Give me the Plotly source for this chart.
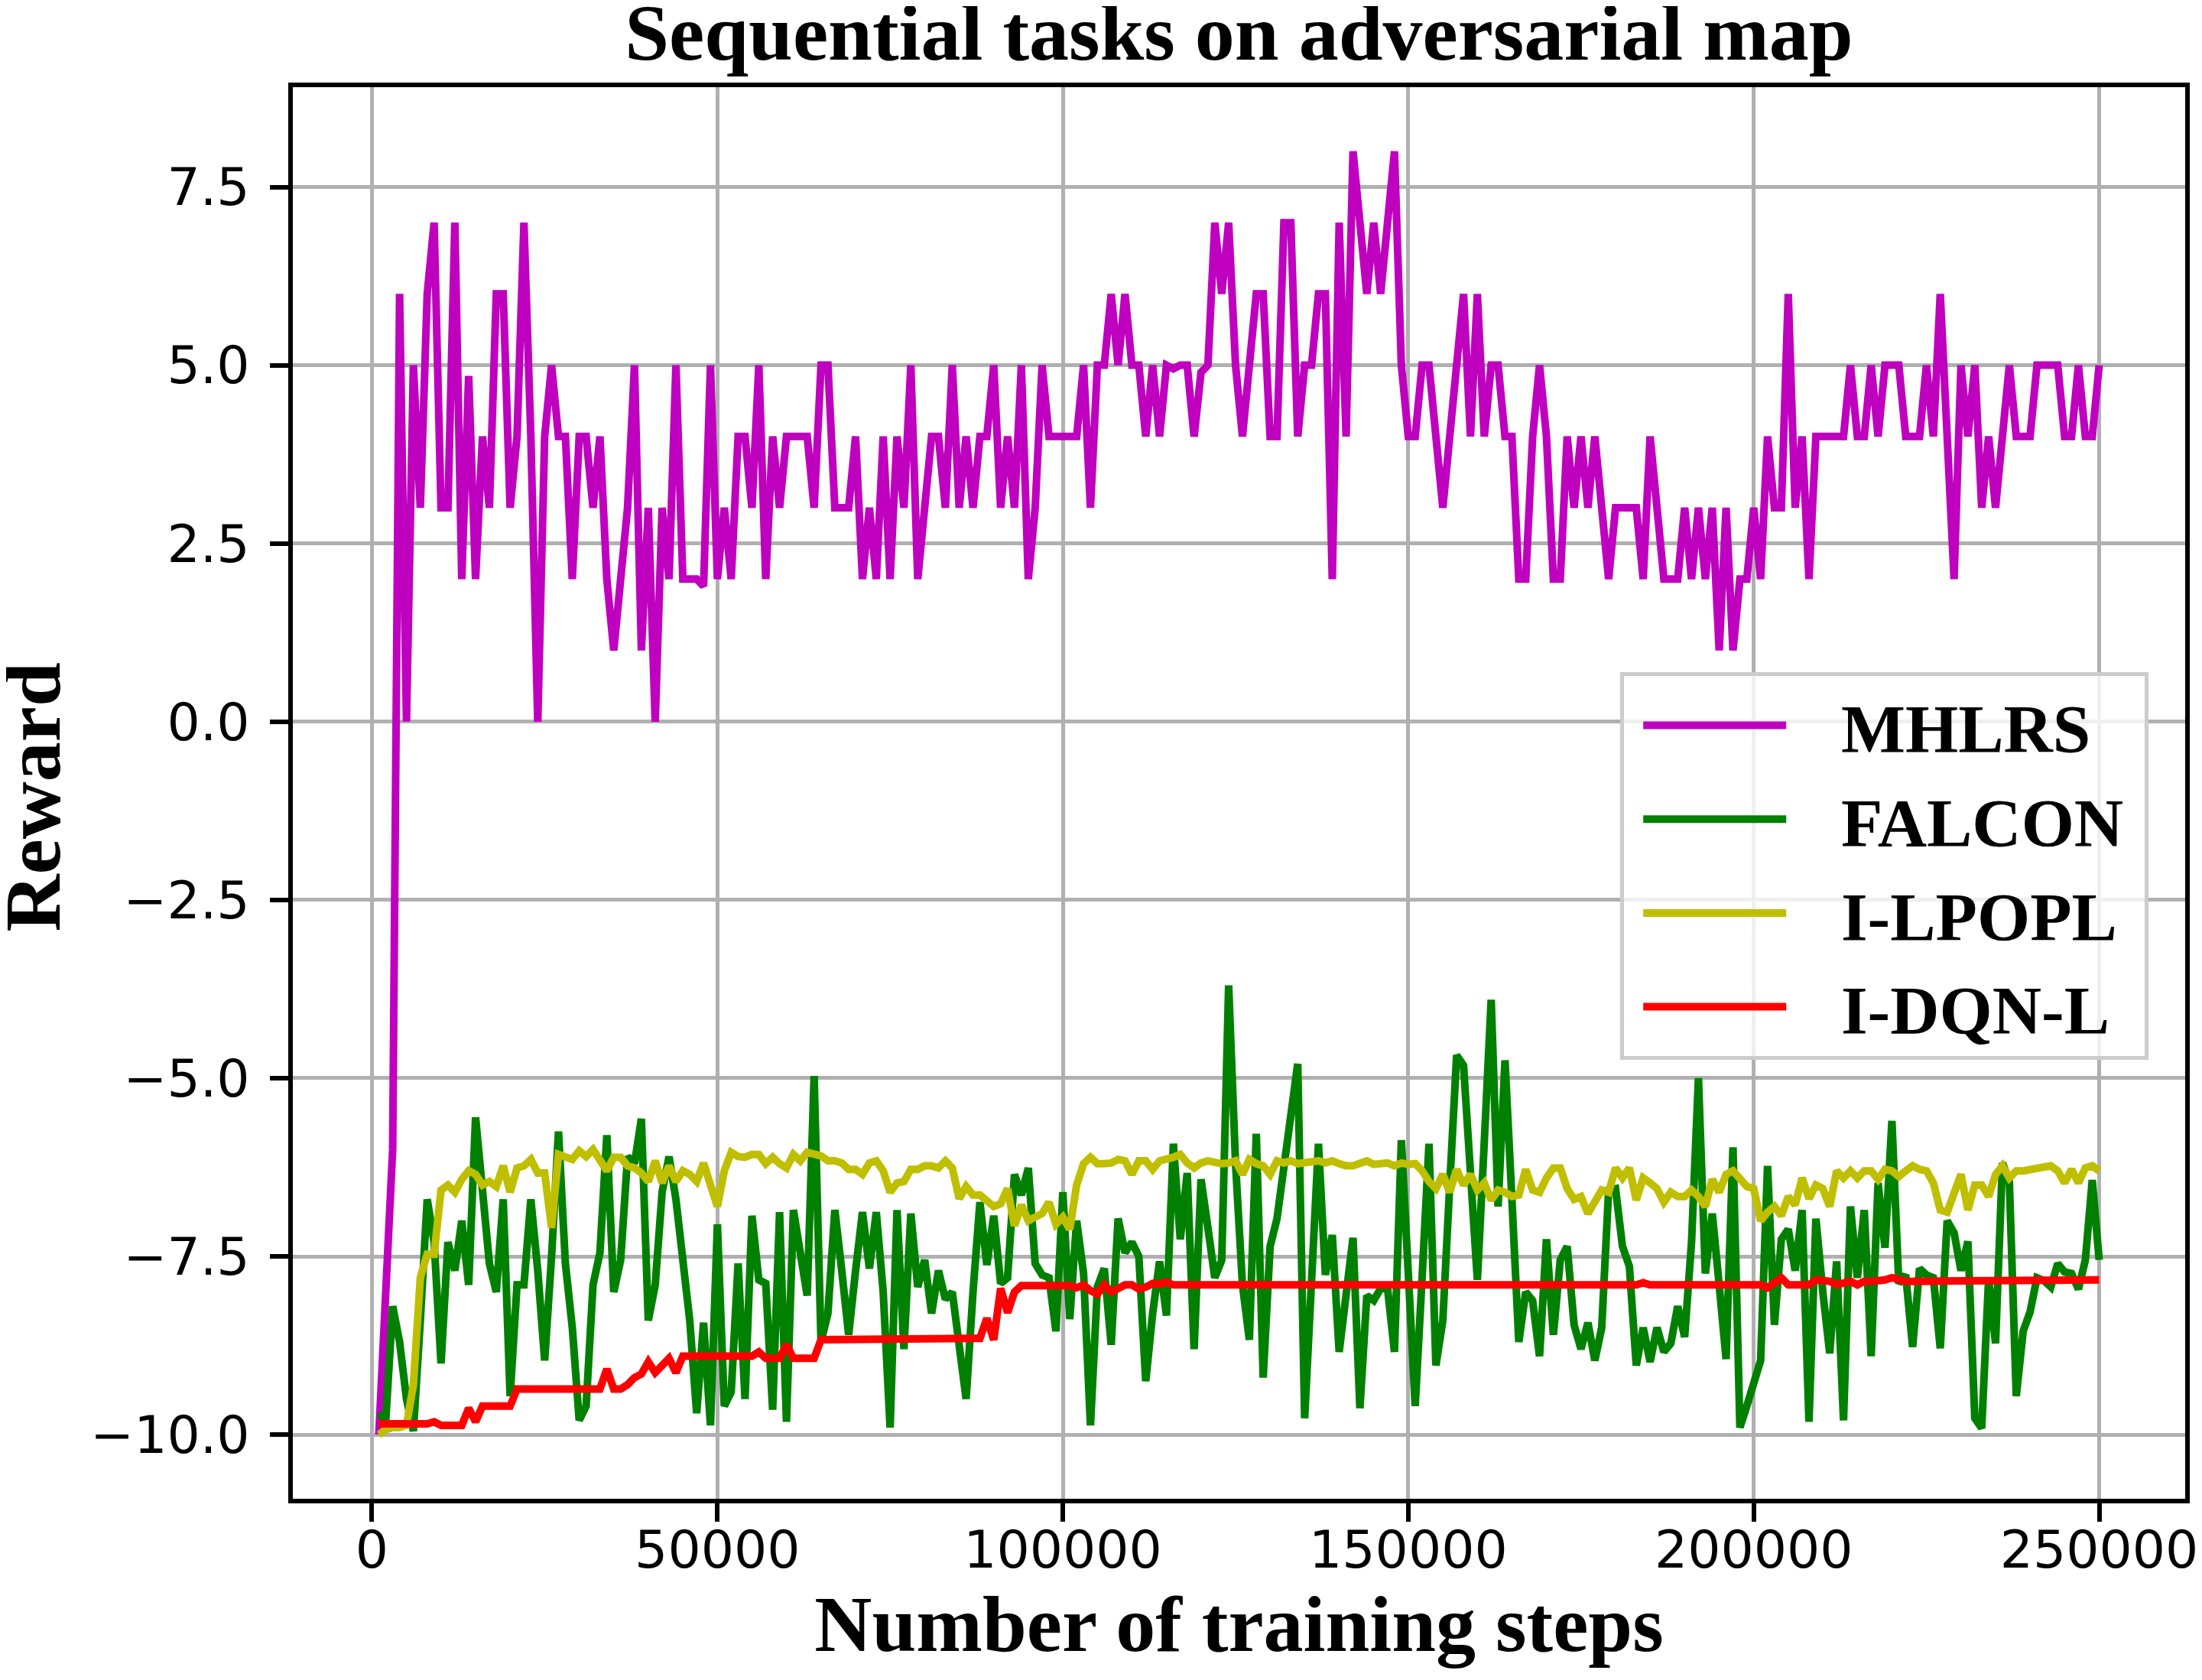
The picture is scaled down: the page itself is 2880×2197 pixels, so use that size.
import plotly.graph_objects as go

# training steps at which rewards were logged
steps = list(range(1000, 250001, 1000))

mhlrs = [
    -10, -8, -6, 6, 0, 5, 3, 6, 7, 3,
    3, 7, 2, 4.85, 2, 4, 3, 6, 6, 3,
    4, 7, 4, 0, 4, 5, 4, 4, 2, 4,
    4, 3, 4, 2, 1, 2, 3, 5, 1, 3,
    0, 3, 2, 5, 2, 2, 2, 1.9, 5, 2,
    3, 2, 4, 4, 3, 5, 2, 4, 3, 4,
    4, 4, 4, 3, 5, 5, 3, 3, 3, 4,
    2, 3, 2, 4, 2, 4, 3, 5, 2, 3,
    4, 4, 3, 5, 3, 4, 3, 4, 4, 5,
    3, 4, 3, 5, 2, 3, 5, 4, 4, 4,
    4, 4, 5, 3, 5, 5, 6, 5, 6, 5,
    5, 4, 5, 4, 5, 4.95, 5, 5, 4, 4.9,
    5, 7, 6, 7, 5, 4, 5, 6, 6, 4,
    4, 7, 7, 4, 5, 5, 6, 6, 2, 7,
    4, 8, 7, 6, 7, 6, 7, 8, 5, 4,
    4, 5, 5, 4, 3, 4, 5, 6, 4, 6,
    4, 5, 5, 4, 4, 2, 2, 4, 5, 4,
    2, 2, 4, 3, 4, 3, 4, 3, 2, 3,
    3, 3, 3, 2, 4, 3, 2, 2, 2, 3,
    2, 3, 2, 3, 1, 3, 1, 2, 2, 3,
    2, 4, 3, 3, 6, 3, 4, 2, 4, 4,
    4, 4, 4, 5, 4, 4, 5, 4, 5, 5,
    5, 4, 4, 4, 5, 4, 6, 4, 2, 5,
    4, 5, 3, 4, 3, 4, 5, 4, 4, 4,
    5, 5, 5, 5, 4, 4, 5, 4, 4, 5,
]

falcon = [
    -9.7, -9.8, -8.2, -8.7, -9.5, -9.95, -8.4, -6.7, -7.3, -9.0,
    -7.3, -7.7, -7.0, -7.9, -5.55, -6.6, -7.6, -8.0, -6.7, -9.46,
    -7.9, -7.9, -6.7, -7.7, -8.96, -7.5, -5.75, -7.6, -8.5, -9.8,
    -9.6, -7.9, -7.45, -5.8, -8.0, -7.55, -6.1, -6.2, -5.57, -8.4,
    -7.9, -6.6, -6.1, -6.7, -7.5, -8.4, -9.7, -8.43, -9.87, -7.05,
    -9.6, -9.4, -7.6, -9.5, -6.93, -7.83, -7.88, -9.65, -6.88, -9.82,
    -6.85, -7.4, -8.05, -4.97, -8.7, -8.3, -6.85, -7.7, -8.6, -7.7,
    -6.88, -7.67, -6.88, -8.0, -9.9, -6.85, -8.8, -6.9, -7.93, -7.55,
    -8.3, -7.7, -8.1, -8.0, -8.8, -9.5, -8.0, -6.74, -7.62, -6.93,
    -7.88, -7.8, -6.35, -6.64, -6.26, -7.6, -7.76, -7.8, -8.55, -6.6,
    -8.38, -7.0, -7.74, -9.87, -7.93, -7.67, -8.74, -6.97, -7.45, -7.3,
    -7.5, -9.25, -8.3, -7.57, -8.33, -5.92, -7.26, -6.33, -8.8, -6.42,
    -7.1, -7.8, -7.55, -3.7, -6.2, -7.9, -8.67, -5.78, -9.2, -7.36,
    -6.97, -6.3, -5.5, -4.8, -9.77, -7.8, -5.92, -7.76, -7.2, -8.84,
    -8.0, -7.24, -9.63, -8.05, -8.12, -7.95, -7.95, -8.84, -5.87, -7.7,
    -9.6, -7.8, -5.92, -9.03, -8.4, -6.5, -4.68, -4.82, -6.2, -7.83,
    -5.9, -3.9, -6.8, -4.75, -6.7, -8.7, -8.0, -8.12, -8.9, -7.26,
    -8.6, -7.55, -7.36, -8.46, -8.8, -8.43, -8.96, -8.5, -6.57, -6.55,
    -7.36, -7.64, -9.03, -8.5, -8.98, -8.5, -8.84, -8.72, -8.2, -8.63,
    -7.3, -5.0, -7.74, -6.9, -7.9, -8.94, -5.97, -9.9, -9.6, -9.3,
    -8.96, -6.23, -8.46, -7.26, -7.12, -7.7, -6.85, -9.82, -6.97, -8.0,
    -8.86, -7.57, -9.8, -6.8, -7.8, -6.85, -8.9, -6.47, -7.38, -5.6,
    -7.88, -7.76, -8.77, -7.67, -7.76, -7.8, -8.79, -7.0, -7.17, -7.7,
    -7.29, -9.77, -9.91, -7.81, -8.72, -6.19, -6.45, -9.46, -8.55, -8.28,
    -7.8, -7.84, -7.93, -7.6, -7.72, -7.74, -7.96, -7.55, -6.43, -7.55,
]

ilpopl = [
    -10.0, -9.93, -9.9, -9.9, -9.87, -9.3, -7.8, -7.47, -7.47, -6.57,
    -6.5, -6.6, -6.42, -6.3, -6.35, -6.5, -6.45, -6.52, -6.23, -6.6,
    -6.26, -6.23, -6.14, -6.33, -6.33, -7.1, -6.07, -6.1, -6.14, -6.02,
    -6.1, -6.0, -6.16, -6.3, -6.11, -6.11, -6.23, -6.26, -6.33, -6.45,
    -6.16, -6.47, -6.23, -6.45, -6.3, -6.35, -6.45, -6.19, -6.5, -6.8,
    -6.3, -6.04, -6.1, -6.11, -6.07, -6.07, -6.2, -6.11, -6.2, -6.26,
    -6.07, -6.16, -6.04, -6.07, -6.09, -6.16, -6.16, -6.19, -6.28, -6.28,
    -6.35, -6.19, -6.16, -6.3, -6.6, -6.47, -6.45, -6.28, -6.28, -6.23,
    -6.23, -6.26, -6.16, -6.26, -6.69, -6.52, -6.64, -6.64, -6.71, -6.8,
    -6.76, -6.55, -7.07, -6.78, -7.0, -6.95, -6.9, -6.74, -7.05, -6.95,
    -7.12, -6.5, -6.2, -6.11, -6.2, -6.2, -6.19, -6.14, -6.16, -6.35,
    -6.16, -6.16, -6.28, -6.16, -6.14, -6.11, -6.07, -6.19, -6.26, -6.19,
    -6.16, -6.19, -6.2, -6.19, -6.16, -6.35, -6.14, -6.2, -6.23, -6.35,
    -6.16, -6.19, -6.16, -6.2, -6.19, -6.16, -6.16, -6.19, -6.16, -6.2,
    -6.23, -6.23, -6.2, -6.16, -6.21, -6.21, -6.19, -6.23, -6.19, -6.21,
    -6.2, -6.3, -6.45, -6.55, -6.35, -6.6, -6.28, -6.5, -6.35, -6.57,
    -6.47, -6.71, -6.57, -6.6, -6.66, -6.64, -6.28, -6.57, -6.6, -6.4,
    -6.26, -6.26, -6.55, -6.7, -6.66, -6.9, -6.74, -6.57, -6.6, -6.26,
    -6.4, -6.26, -6.71, -6.4, -6.47, -6.55, -6.74, -6.6, -6.66, -6.66,
    -6.57, -6.66, -6.8, -6.42, -6.6, -6.35, -6.3, -6.4, -6.52, -6.55,
    -7.0, -6.88, -6.8, -6.93, -6.66, -6.78, -6.4, -6.69, -6.5, -6.55,
    -6.8, -6.3, -6.4, -6.3, -6.4, -6.3, -6.3, -6.42, -6.28, -6.3,
    -6.38, -6.3, -6.23, -6.28, -6.3, -6.47, -6.85, -6.88, -6.64, -6.35,
    -6.85, -6.5, -6.5, -6.66, -6.35, -6.23, -6.4, -6.3, -6.3, -6.28,
    -6.26, -6.23, -6.23, -6.3, -6.47, -6.28, -6.47, -6.26, -6.23, -6.3,
]

idqnl = [
    -9.85, -9.85, -9.85, -9.85, -9.85, -9.85, -9.85, -9.85, -9.82, -9.87,
    -9.87, -9.87, -9.87, -9.63, -9.82, -9.6, -9.6, -9.6, -9.6, -9.6,
    -9.36, -9.36, -9.36, -9.36, -9.36, -9.36, -9.36, -9.36, -9.36, -9.36,
    -9.36, -9.36, -9.36, -9.08, -9.36, -9.36, -9.3, -9.2, -9.15, -8.98,
    -9.13, -9.03, -8.93, -9.13, -8.9, -8.9, -8.9, -8.9, -8.9, -8.9,
    -8.9, -8.9, -8.9, -8.9, -8.9, -8.84, -8.93, -8.93, -8.93, -8.74,
    -8.93, -8.93, -8.93, -8.93, -8.67, -8.67, -8.67, -8.67, -8.67, -8.67,
    -8.67, -8.67, -8.67, -8.67, -8.67, -8.67, -8.67, -8.67, -8.67, -8.67,
    -8.67, -8.67, -8.67, -8.67, -8.67, -8.67, -8.67, -8.65, -8.37, -8.67,
    -7.95, -8.29, -8.0, -7.91, -7.91, -7.91, -7.91, -7.91, -7.91, -7.91,
    -7.91, -7.94, -7.9, -7.98, -8.03, -7.9, -8.0, -7.95, -7.9, -7.9,
    -7.96, -7.93, -7.88, -7.89, -7.86, -7.9, -7.9, -7.9, -7.9, -7.9,
    -7.9, -7.9, -7.9, -7.9, -7.9, -7.9, -7.9, -7.9, -7.9, -7.9,
    -7.9, -7.9, -7.9, -7.9, -7.9, -7.9, -7.9, -7.9, -7.9, -7.9,
    -7.9, -7.9, -7.9, -7.9, -7.9, -7.9, -7.9, -7.9, -7.9, -7.9,
    -7.9, -7.9, -7.9, -7.9, -7.9, -7.9, -7.9, -7.9, -7.9, -7.9,
    -7.9, -7.9, -7.88, -7.9, -7.9, -7.9, -7.9, -7.9, -7.9, -7.9,
    -7.9, -7.9, -7.9, -7.9, -7.9, -7.9, -7.9, -7.9, -7.9, -7.9,
    -7.9, -7.9, -7.9, -7.87, -7.9, -7.9, -7.9, -7.9, -7.9, -7.9,
    -7.9, -7.9, -7.9, -7.9, -7.9, -7.9, -7.9, -7.9, -7.9, -7.9,
    -7.9, -7.94, -7.87, -7.8, -7.9, -7.9, -7.9, -7.9, -7.83, -7.85,
    -7.85, -7.9, -7.87, -7.85, -7.9, -7.85, -7.85, -7.85, -7.83, -7.8,
    -7.83, -7.85, -7.85, -7.85, -7.85, -7.85, -7.85, -7.85, -7.85, -7.85,
    -7.85, -7.85, -7.85, -7.85, -7.85, -7.85, -7.85, -7.85, -7.83, -7.83,
    -7.83, -7.83, -7.83, -7.83, -7.83, -7.83, -7.83, -7.83, -7.83, -7.83,
]

series_names = ["MHLRS", "FALCON", "I-LPOPL", "I-DQN-L"]
series_values = [mhlrs, falcon, ilpopl, idqnl]
series_colors = ["#bf00bf", "#008000", "#bfbf00", "#ff0000"]

x_tickvals = [0, 50000, 100000, 150000, 200000, 250000]
y_tickvals = [-10.0, -7.5, -5.0, -2.5, 0.0, 2.5, 5.0, 7.5]

SERIF = "Liberation Serif, Times New Roman, serif"
SANS = "DejaVu Sans, sans-serif"
NB = "\u00a0"

fig = go.Figure()
for name, vals, color in zip(series_names, series_values, series_colors):
    fig.add_trace(go.Scatter(
        x=steps, y=vals, mode="lines",
        name=NB * 3 + name + NB,
        legendgroup=name,
        line=dict(color=color, width=10),
    ))

axis_common = dict(
    showgrid=True, gridcolor="#b0b0b0", gridwidth=5,
    showline=True, linecolor="black", linewidth=5.5, mirror=True,
    ticks="outside", ticklen=24, tickwidth=5.5, tickcolor="black",
    tickfont=dict(family=SANS, size=68, color="black"),
    zeroline=False, automargin=False, ticklabeloverflow="allow",
)

W, H = 2864, 2181
L, R, T, B = 375, 14, 106, 229
plot_w = W - L - R

fig.update_layout(
    width=W, height=H,
    margin=dict(l=L, r=R, t=T, b=B),
    paper_bgcolor="white", plot_bgcolor="white",
    title=dict(
        text="Sequential tasks on adversarial map",
        x=0.5, xref="paper", xanchor="center",
        y=1 - 34 / H, yref="container", yanchor="middle",
        font=dict(family=SERIF, size=104, color="black", weight="bold"),
    ),
    xaxis=dict(
        range=[-11450, 262450],
        tickvals=x_tickvals,
        ticktext=[str(v) for v in x_tickvals],
        ticklabelstandoff=-21,
        title=dict(text="Number of training steps", standoff=0,
                   font=dict(family=SERIF, size=104, color="black", weight="bold")),
        **axis_common,
    ),
    yaxis=dict(
        range=[-10.9, 8.9],
        tickvals=y_tickvals,
        tickformat=".1f",
        ticklabelstandoff=13,
        **axis_common,
    ),
    annotations=[dict(
        text="Reward", textangle=-90,
        xref="paper", yref="paper",
        x=(35 - L) / plot_w, y=0.497,
        xanchor="center", yanchor="middle", showarrow=False,
        font=dict(family=SERIF, size=104, color="black", weight="bold"),
    )],
    legend=dict(
        x=0.7015, y=0.5855, xanchor="left", yanchor="top",
        bgcolor="rgba(255,255,255,0.8)", bordercolor="#cccccc", borderwidth=5,
        font=dict(family=SERIF, size=89, color="black", weight="bold"),
        itemwidth=187, tracegroupgap=4, indentation=20,
    ),
    showlegend=True,
)

fig.write_html("out.html")
